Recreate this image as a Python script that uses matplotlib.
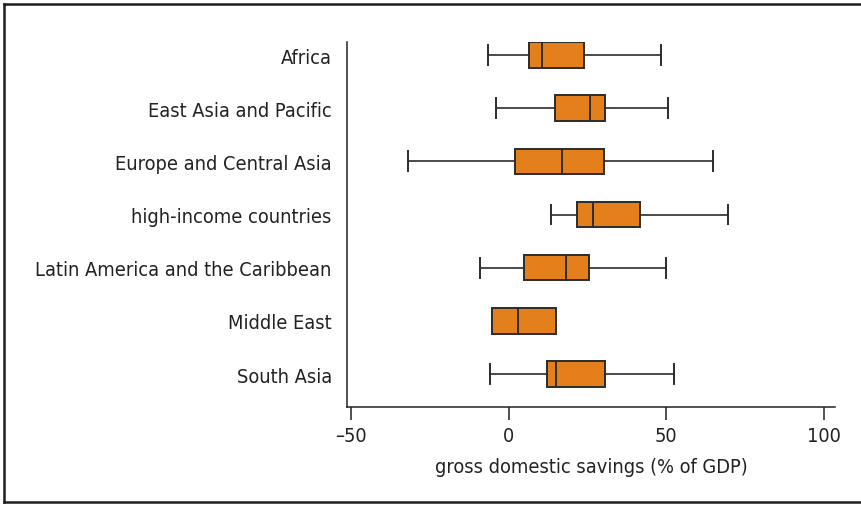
import matplotlib.pyplot as plt
from matplotlib.lines import Line2D

# regiony i statystyki pudełek (% PKB)
regions = ["Africa", "East Asia and Pacific", "Europe and Central Asia",
           "high-income countries", "Latin America and the Caribbean",
           "Middle East", "South Asia"]
whisker_lo = [-6.5, -4.1, -31.9, 13.4, -9.0, -5.3, -5.9]
q1 = [6.5, 14.6, 2.0, 21.8, 4.9, -5.3, 12.1]
median = [10.5, 25.9, 17.0, 26.7, 18.2, 2.9, 15.0]
q3 = [23.8, 30.7, 30.2, 41.6, 25.5, 15.0, 30.7]
whisker_hi = [48.4, 50.5, 65.0, 69.7, 50.1, 15.0, 52.5]
xticks = [-50, 0, 50, 100]

plt.rcParams['font.family'] = ['DejaVu Sans']
plt.rcParams['font.stretch'] = 'condensed'

fig = plt.figure(figsize=(8.62, 5.06), dpi=100)
ax = fig.add_axes([0.4026, 0.1937, 0.9687 - 0.4026, 0.915 - 0.1937])

stats = []
for i in range(len(regions)):
    stats.append(dict(label=regions[i], whislo=whisker_lo[i], q1=q1[i], med=median[i],
                      q3=q3[i], whishi=whisker_hi[i], fliers=[]))

bp = ax.bxp(stats, positions=range(len(regions)), vert=False, widths=0.48,
            patch_artist=True, showfliers=False, capwidths=0.375,
            boxprops=dict(facecolor='#E3801C', edgecolor='#2b2b2b', linewidth=1.4),
            medianprops=dict(color='#2b2b2b', linewidth=1.4),
            whiskerprops=dict(color='#2b2b2b', linewidth=1.2),
            capprops=dict(color='#2b2b2b', linewidth=1.4))

# Middle East nie ma wąsów
for i in range(len(regions)):
    if whisker_lo[i] == q1[i] and whisker_hi[i] == q3[i]:
        bp['caps'][2 * i].set_visible(False)
        bp['caps'][2 * i + 1].set_visible(False)

ax.set_xlim(-51.3, 103.6)
ax.set_ylim(6.62, -0.245)
ax.set_xticks(xticks)
ax.set_xticklabels(['\u2013' + str(-t) if t < 0 else str(t) for t in xticks])
ax.set_yticks(range(len(regions)))
ax.set_yticklabels(regions)
ax.tick_params(axis='y', length=0, pad=11, labelsize=14.3, colors='#222222')
ax.tick_params(axis='x', length=9, width=1.1, pad=5, labelsize=14.3, colors='#222222')
ax.set_xlabel('gross domestic savings (% of GDP)', fontsize=14.3, color='#222222', labelpad=8)

for s in ['top', 'right']:
    ax.spines[s].set_visible(False)
for s in ['left', 'bottom']:
    ax.spines[s].set_color('#222222')
    ax.spines[s].set_linewidth(1.1)

# ramka wokół rysunku (bez prawej krawędzi)
x0, y0, y1 = 4.5 / 862, 3.5 / 506, 1 - 4.5 / 506
for xs, ys in [([x0, x0], [y0, y1]), ([x0, 1.0], [y1, y1]), ([x0, 1.0], [y0, y0])]:
    fig.add_artist(Line2D(xs, ys, transform=fig.transFigure, color='#1e1e1e',
                          linewidth=1.8, solid_capstyle='projecting'))

fig.savefig('out.png', dpi=100)
